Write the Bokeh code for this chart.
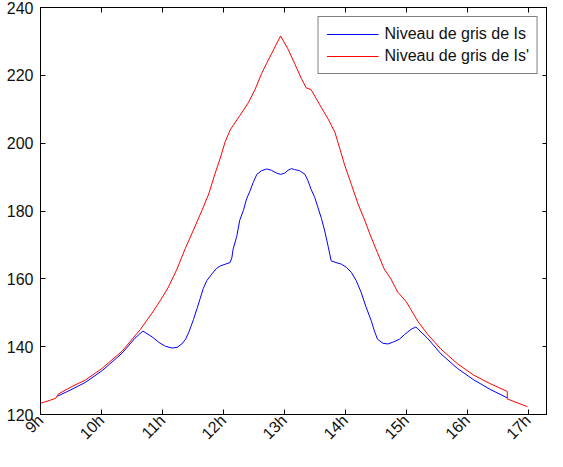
from bokeh.plotting import figure
from bokeh.models import FixedTicker, LinearAxis, Range1d, Legend, LegendItem
from bokeh.embed import file_html
from bokeh.resources import INLINE
import math

# ---- data (hours as decimals, grey levels) ----
blue_x = [9.28, 9.5, 9.74, 10.01, 10.34, 10.55, 10.68, 10.83, 10.94, 11.05, 11.16, 11.24,
          11.32, 11.38, 11.43, 11.47, 11.51, 11.57, 11.62, 11.67, 11.73, 11.81, 11.89,
          11.95, 12.03, 12.11, 12.14, 12.16, 12.22, 12.27, 12.33, 12.38, 12.44, 12.49,
          12.55, 12.63, 12.71, 12.79, 12.87, 12.94, 13.01, 13.06, 13.12, 13.17, 13.25,
          13.34, 13.39, 13.44, 13.50, 13.55, 13.61, 13.66, 13.72, 13.77, 13.85, 13.94,
          14.02, 14.10, 14.18, 14.26, 14.34, 14.43, 14.48, 14.53, 14.62, 14.70, 14.78,
          14.89, 14.97, 15.08, 15.16, 15.35, 15.57, 15.84, 16.11, 16.39, 16.66]
blue_y = [125.4, 127.3, 129.5, 132.9, 138.1, 142.5, 144.6, 142.9, 141.3, 140.1, 139.6, 139.8,
          140.8, 142.2, 144.1, 146.0, 148.0, 151.3, 154.2, 157.1, 159.5, 161.4, 163.1,
          163.8, 164.3, 164.8, 166.2, 168.7, 172.5, 177.3, 180.2, 183.5, 186.0, 188.4,
          190.8, 191.9, 192.4, 192.0, 191.2, 190.8, 191.2, 192.0, 192.5, 192.2, 191.9,
          190.8, 188.9, 186.4, 184.0, 181.2, 177.8, 174.4, 169.6, 165.3, 164.8, 164.3,
          163.4, 161.9, 159.5, 156.1, 151.8, 147.5, 144.6, 142.2, 141.0, 140.8, 141.3,
          142.2, 143.5, 145.1, 145.8, 142.5, 137.9, 133.6, 130.2, 127.3, 124.9]

red_x = [9.0, 9.14, 9.25, 9.29, 9.5, 9.74, 10.01, 10.34, 10.64, 10.83, 10.97, 11.10, 11.24,
         11.37, 11.51, 11.65, 11.76, 11.86, 11.95, 12.03, 12.11, 12.16, 12.27, 12.41, 12.52,
         12.63, 12.71, 12.79, 12.87, 12.94, 13.06, 13.17, 13.28, 13.36, 13.44, 13.58, 13.72,
         13.83, 13.91, 13.99, 14.10, 14.21, 14.32, 14.42, 14.53, 14.64, 14.75, 14.86, 15.00,
         15.08, 15.19, 15.35, 15.57, 15.84, 16.11, 16.39, 16.66, 16.66, 16.99]
red_y = [123.3, 124.1, 124.8, 126.0, 128.1, 130.2, 133.6, 138.7, 145.1, 149.9, 153.7, 157.6,
         162.9, 168.7, 174.4, 180.2, 185.0, 190.8, 195.6, 200.4, 203.8, 205.2, 208.1, 211.9,
         215.8, 220.6, 223.5, 226.3, 229.2, 231.6, 227.8, 223.5, 219.1, 216.3, 215.8, 211.4,
         207.1, 203.3, 198.5, 193.6, 187.9, 182.1, 177.3, 172.5, 167.7, 162.9, 160.0, 156.1,
         153.3, 150.9, 147.5, 143.7, 139.3, 135.0, 131.6, 129.0, 126.8, 124.6, 122.3]

x_ticks = [9, 10, 11, 12, 13, 14, 15, 16, 17]
x_tick_labels = ["9h", "10h", "11h", "12h", "13h", "14h", "15h", "16h", "17h"]
y_ticks = [120, 140, 160, 180, 200, 220, 240]
series_names = ["Niveau de gris de Is", "Niveau de gris de Is'"]

FONT = "Liberation Sans"

p = figure(width=547, height=451, output_backend="svg", toolbar_location=None,
           x_range=Range1d(9, 17.32), y_range=Range1d(120, 240),
           min_border_left=40, min_border_right=0, min_border_top=7, min_border_bottom=30)
p.background_fill_color = "white"
p.border_fill_color = "white"
p.xgrid.visible = False
p.ygrid.visible = False
p.outline_line_color = "black"
p.outline_line_width = 1
p.outline_line_alpha = 1

def style_axis(ax, ticks, labels=True):
    ax.ticker = FixedTicker(ticks=ticks)
    ax.major_tick_in = 5
    ax.major_tick_out = 0
    ax.minor_tick_in = 0
    ax.minor_tick_out = 0
    ax.axis_line_color = "black"
    ax.major_tick_line_color = "black"
    if labels:
        ax.major_label_text_font = FONT
        ax.major_label_text_font_size = "16px"
        ax.major_label_text_color = "#111111"
    else:
        ax.major_label_text_font_size = "0px"
        ax.major_label_text_color = None
        ax.major_label_standoff = 0

xa = p.xaxis[0]
style_axis(xa, x_ticks)
xa.major_label_overrides = {t: l for t, l in zip(x_ticks, x_tick_labels)}
xa.major_label_orientation = math.pi / 4
xa.major_label_standoff = 3

ya = p.yaxis[0]
style_axis(ya, y_ticks)
ya.major_label_standoff = 7

top = LinearAxis()
style_axis(top, x_ticks, labels=False)
p.add_layout(top, "above")
right = LinearAxis()
style_axis(right, y_ticks, labels=False)
p.add_layout(right, "right")

r_blue = p.line(blue_x, blue_y, line_color="#0000ff", line_width=1)
r_red = p.line(red_x, red_y, line_color="#ff0000", line_width=1)

legend = Legend(items=[LegendItem(label=series_names[0], renderers=[r_blue]),
                       LegendItem(label=series_names[1], renderers=[r_red])],
                location="top_right", margin=9, padding=8, spacing=4,
                glyph_width=52, glyph_height=18, label_height=18, label_standoff=6,
                label_text_font=FONT, label_text_font_size="16px",
                label_text_color="#111111",
                border_line_color="black", border_line_width=1,
                background_fill_color="white", background_fill_alpha=1)
p.add_layout(legend, "center")

open("out.html", "w").write(file_html(p, INLINE))
